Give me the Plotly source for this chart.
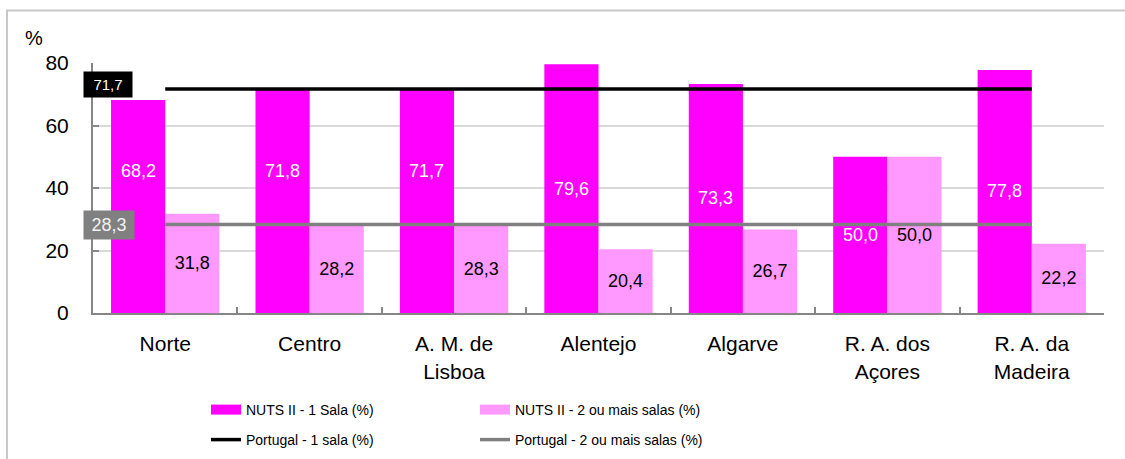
import plotly.graph_objects as go

# Regiões NUTS II
regioes = ["Norte", "Centro", "A. M. de<br>Lisboa", "Alentejo", "Algarve",
           "R. A. dos<br>Açores", "R. A. da<br>Madeira"]
uma_sala = [68.2, 71.8, 71.7, 79.6, 73.3, 50.0, 77.8]
duas_ou_mais = [31.8, 28.2, 28.3, 20.4, 26.7, 50.0, 22.2]
portugal_uma = 71.7
portugal_duas = 28.3
y_ticks = [0, 20, 40, 60, 80]

MAGENTA = "#ff00ff"
ROSA = "#ff99ff"
PRETO = "#000000"
CINZA = "#808080"
FONT = "Arial, 'Liberation Sans', sans-serif"

W, H = 1125, 459
ML, MR, MT, MB = 93, 21, 63, 146
PW, PH = W - ML - MR, H - MT - MB
BARGAP = 0.25
# deslocamento horizontal do centro de cada barra em relação ao centro da categoria
BAR_OFFSET = PW / len(regioes) * (1 - BARGAP) / 4


def px_x(p):
    return (p - ML) / PW


def px_y(p):
    return (H - MB - p) / PH


def fmt(v):
    return f"{v:.1f}".replace(".", ",")


fig = go.Figure()

fig.add_trace(go.Bar(x=regioes, y=uma_sala, marker=dict(color=MAGENTA, line=dict(width=0)),
                     showlegend=False, hoverinfo="skip"))
fig.add_trace(go.Bar(x=regioes, y=duas_ou_mais, marker=dict(color=ROSA, line=dict(width=0)),
                     showlegend=False, hoverinfo="skip",
                     text=[fmt(v) for v in duas_ou_mais], textposition="inside",
                     insidetextanchor="middle", textangle=0,
                     textfont=dict(family=FONT, size=18, color="#000000")))

# Linhas de referência nacionais
fig.add_trace(go.Scatter(x=regioes, y=[portugal_uma] * len(regioes), mode="lines",
                         line=dict(color=PRETO, width=3.5), showlegend=False, hoverinfo="skip"))
fig.add_trace(go.Scatter(x=regioes, y=[portugal_duas] * len(regioes), mode="lines",
                         line=dict(color=CINZA, width=3.5), showlegend=False, hoverinfo="skip"))

# Entradas de legenda (amostras largas)
legend_entries = [
    ("NUTS II - 1 Sala (%)", MAGENTA, 10, "legend"),
    ("NUTS II - 2 ou mais salas (%)", ROSA, 10, "legend"),
    ("Portugal - 1 sala (%)", PRETO, 3.5, "legend2"),
    ("Portugal - 2 ou mais salas (%)", CINZA, 3.5, "legend2"),
]
for name, color, w, lg in legend_entries:
    fig.add_trace(go.Scatter(x=[None], y=[None], mode="lines", name=name,
                             line=dict(color=color, width=w), legend=lg))

annotations = []
# Rótulos das barras de 1 sala
for cat, v in zip(regioes, uma_sala):
    y_lab = v / 2
    if 0 < y_lab - portugal_duas < 8:
        y_lab = portugal_duas + 17
    annotations.append(dict(x=cat, y=y_lab, xref="x", yref="y", xshift=-BAR_OFFSET,
                            text=fmt(v), showarrow=False,
                            font=dict(family=FONT, size=18, color="#ffffff")))

# Etiquetas dos valores nacionais
annotations.append(dict(x=px_x(133), y=portugal_uma, xref="paper", yref="y", xanchor="right",
                        yanchor="middle", yshift=4, text=fmt(portugal_uma), showarrow=False,
                        bgcolor=PRETO, width=44, height=21, borderpad=2,
                        font=dict(family=FONT, size=15, color="#ffffff")))
annotations.append(dict(x=px_x(135), y=portugal_duas, xref="paper", yref="y", xanchor="right",
                        yanchor="middle", text=fmt(portugal_duas), showarrow=False,
                        bgcolor=CINZA, width=46, height=24, borderpad=2,
                        font=dict(family=FONT, size=18, color="#f2f2f2")))

# Unidade do eixo
annotations.append(dict(x=px_x(34), y=px_y(38), xref="paper", yref="paper", text="%",
                        xanchor="center", yanchor="middle", showarrow=False,
                        font=dict(family=FONT, size=20, color="#000000")))

fig.update_layout(
    width=W, height=H,
    margin=dict(l=ML, r=MR, t=MT, b=MB, autoexpand=False),
    paper_bgcolor="white", plot_bgcolor="white",
    barmode="group", bargap=BARGAP, bargroupgap=0,
    font=dict(family=FONT, color="#000000"),
    annotations=annotations,
    shapes=[dict(type="rect", xref="paper", yref="paper",
                 x0=px_x(7), x1=px_x(W + 5), y0=px_y(H + 5), y1=px_y(10.5),
                 line=dict(color="#c8c8c8", width=2), fillcolor="rgba(0,0,0,0)", layer="below")],
    legend=dict(orientation="h", x=px_x(206), xanchor="left", y=px_y(410), yanchor="middle",
                entrywidth=224, bgcolor="rgba(0,0,0,0)",
                font=dict(family=FONT, size=14, color="#000000")),
    legend2=dict(orientation="h", x=px_x(206), xanchor="left", y=px_y(440), yanchor="middle",
                 entrywidth=224, bgcolor="rgba(0,0,0,0)",
                 font=dict(family=FONT, size=14, color="#000000")),
)

fig.update_xaxes(
    showline=True, linecolor="#868686", linewidth=2, showgrid=False,
    ticks="inside", tickson="boundaries", ticklen=6, tickcolor="#868686", tickwidth=1.5,
    tickfont=dict(family=FONT, size=21, color="#000000"), ticklabelstandoff=11,
)
fig.update_yaxes(
    range=[0, 80], tickvals=y_ticks, showline=True, linecolor="#868686", linewidth=2,
    showgrid=True, gridcolor="#d9d9d9", gridwidth=1.5, zeroline=False,
    ticks="inside", ticklen=6, tickcolor="#868686", tickwidth=1.5,
    tickfont=dict(family=FONT, size=21, color="#000000"), ticklabelstandoff=18,
)

fig.write_html("out.html")
